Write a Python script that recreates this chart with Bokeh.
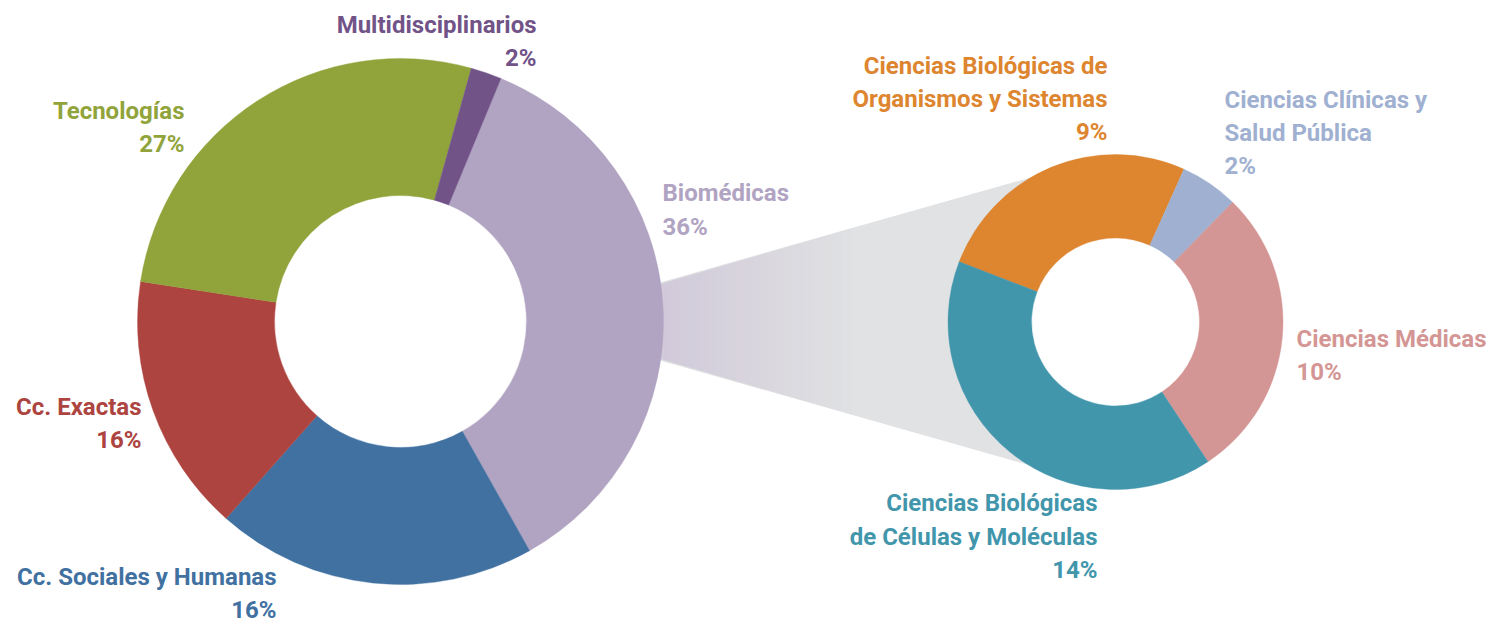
import numpy as np
from bokeh.plotting import figure
from bokeh.models import Range1d
from bokeh.core.properties import value
from bokeh.embed import file_html
from bokeh.resources import INLINE

# ---------------- data ----------------
main_cats = ["Biomédicas", "Cc. Sociales y Humanas", "Cc. Exactas", "Tecnologías", "Multidisciplinarios"]
main_vals = [35.6, 19.7, 15.9, 26.9, 1.9]
main_labels = ["36%", "16%", "16%", "27%", "2%"]
main_colors = ["#b1a3c2", "#4171a1", "#ad443f", "#91a43b", "#725388"]

bio_cats = ["Ciencias Biológicas de\nOrganismos y Sistemas", "Ciencias Clínicas y\nSalud Pública",
            "Ciencias Médicas", "Ciencias Biológicas\nde Células y Moléculas"]
bio_vals = [9.2, 2.0, 10.1, 14.3]
bio_labels = ["9%", "2%", "10%", "14%"]
bio_colors = ["#dd852f", "#a0b0d1", "#d49694", "#4296ac"]

# ---------------- layout (page pixel coords) ----------------
W, H = 1491, 625
def Y(py):
    return H - py

L_C = (400.0, Y(321.0)); L_RO, L_RI = 263.0, 126.0; L_START = 22.45
R_C = (1115.0, Y(321.5)); R_RO, R_RI = 167.5, 84.0; R_START = 291.1

# label anchors: (x, first baseline page-y, align)
main_anchor = [(662, 201.7, "left"), (276, 585, "right"), (141, 415, "right"),
               (184, 119, "right"), (536, 33, "right")]
bio_anchor = [(1107, 74, "right"), (1224, 108.3, "left"), (1296, 347.3, "left"),
              (1097, 511.7, "right")]
LINE_H = 33.3
TEXT_DY = 9.0   # renderer places alphabetic baseline lower than nominal
FONT = "Roboto"

p = figure(width=W, height=H, output_backend="svg", toolbar_location=None,
           x_range=Range1d(0, W), y_range=Range1d(0, H), min_border=0)
p.axis.visible = False
p.grid.visible = False
p.outline_line_color = None
p.background_fill_color = "white"
p.border_fill_color = "white"

# ---------------- connector band (gradient) ----------------
half = np.arctan(0.288)
dy0 = 37.5
lx = L_C[0] + np.sqrt(L_RO**2 - dy0**2)
ltop = (lx, L_C[1] + dy0)
lbot = (lx, L_C[1] - dy0)

def hit(pt, slope):
    d = np.array([1.0, slope]); d /= np.linalg.norm(d)
    f = np.array(pt) - np.array(R_C)
    b = 2 * f.dot(d); c = f.dot(f) - R_RO**2
    t = (-b - np.sqrt(b * b - 4 * c)) / 2
    return np.array(pt) + t * d

itop = hit(ltop, np.tan(half))
ibot = hit(lbot, -np.tan(half))
rmid = (R_RO + R_RI) / 2
bx = [ltop[0] - 6, itop[0], R_C[0] - rmid, ibot[0], lbot[0] - 6]
by = [ltop[1], itop[1], R_C[1], ibot[1], lbot[1]]
p.patch(bx, by, fill_color="#e1e2e4", line_color=None)

c0 = np.array([0xd2, 0xcb, 0xda]); c1 = np.array([0xe1, 0xe2, 0xe4])
x0g, x1g, step = lx - 6, 850.0, 2.0
xs_s, ys_s, cols = [], [], []
for xg in np.arange(x0g, x1g, step):
    xa, xb = xg, xg + step + 0.6
    ya_t = ltop[1] + np.tan(half) * (xa - lx); yb_t = ltop[1] + np.tan(half) * (xb - lx)
    ya_b = lbot[1] - np.tan(half) * (xa - lx); yb_b = lbot[1] - np.tan(half) * (xb - lx)
    xs_s.append([xa, xb, xb, xa]); ys_s.append([ya_t, yb_t, yb_b, ya_b])
    f = min(max((xg - lx) / (x1g - lx), 0), 1)
    c = (c0 + (c1 - c0) * f).astype(int)
    cols.append("#%02x%02x%02x" % tuple(c))
p.patches(xs_s, ys_s, fill_color=cols, line_color=cols, line_width=0.3)

# ---------------- donuts ----------------
def donut(center, ro, ri, start, vals, colors):
    tot = sum(vals)
    th = start
    for v, col in zip(vals, colors):
        span = v / tot * 360.0
        a0 = np.radians(90 - (th + span)); a1 = np.radians(90 - th)
        p.annular_wedge(x=center[0], y=center[1], inner_radius=ri, outer_radius=ro,
                        start_angle=a0, end_angle=a1, direction="anticlock",
                        fill_color=col, line_color=col, line_width=0.4)
        th += span

donut(L_C, L_RO, L_RI, L_START, main_vals, main_colors)
donut(R_C, R_RO, R_RI, R_START, bio_vals, bio_colors)

# ---------------- labels ----------------
def labels(cats, pcts, anchors, colors):
    for cat, pct, (ax, ay, al), col in zip(cats, pcts, anchors, colors):
        lines = cat.split("\n") + [pct]
        for i, ln in enumerate(lines):
            p.text(x=[ax], y=[Y(ay + i * LINE_H - TEXT_DY)], text=[ln], text_align=al,
                   text_baseline="alphabetic", text_color=col,
                   text_font=value(FONT), text_font_style="bold", text_font_size="24px")

labels(main_cats, main_labels, main_anchor, main_colors)
labels(bio_cats, bio_labels, bio_anchor, bio_colors)

open("out.html", "w").write(file_html(p, INLINE))
